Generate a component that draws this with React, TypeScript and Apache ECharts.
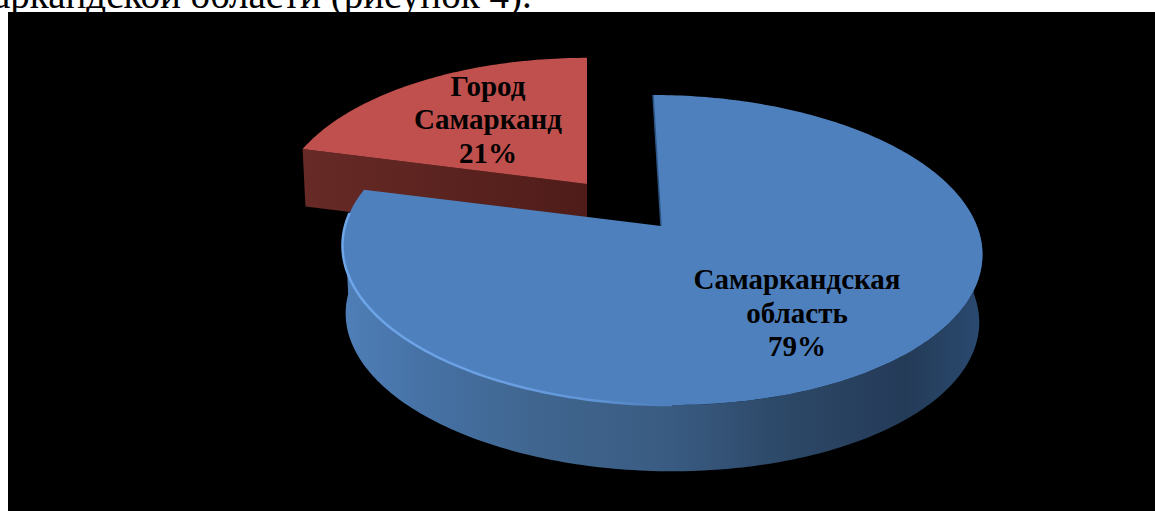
import React, { useEffect, useRef } from "react";
import * as echarts from "echarts";

const categories = ["Самаркандская\nобласть", "Город\nСамарканд"];
const shares = [79, 21];
const caption = "аркандской области (рисунок 4).";

const W = 1155;
const H = 511;
const K = 0.155;
const RX = 316;
const RY = 151.3;

type Look = {
  ax: number; ay: number; sx: number; sy: number; shear: number; depth: number;
  top: string; labelX: number; labelY: number;
};
const looks: Look[] = [
  { ax: 661, ay: 226, sx: 1, sy: 1, shear: 0.061, depth: 68, top: "#4e80bd", labelX: 797, labelY: 312.5 },
  { ax: 587, ay: 184, sx: 0.965, sy: 0.963, shear: 0, depth: 57, top: "#c0504d", labelX: 488, labelY: 119 },
];

const rad = (d: number) => (d * Math.PI) / 180;

function pt(l: Look, deg: number, bottom = false): number[] {
  const t = rad(deg);
  const w = 1 + K * Math.cos(t);
  const shrink = bottom ? 0.99 : 1;
  const dy = (-l.sy * RY * Math.cos(t) * shrink) / w;
  const dx = (l.sx * RX * Math.sin(t) * shrink) / w;
  return [l.ax + dx + l.shear * dy, l.ay + dy + (bottom ? l.depth : 0)];
}

function arc(l: Look, from: number, to: number, bottom = false): number[][] {
  const out: number[][] = [];
  const n = Math.max(2, Math.ceil(Math.abs(to - from)));
  for (let i = 0; i <= n; i++) out.push(pt(l, from + ((to - from) * i) / n, bottom));
  return out;
}

const hGrad = (x: number, x2: number, stops: [number, string][]) => ({
  type: "linear", x, y: 0, x2, y2: 0, global: true,
  colorStops: stops.map(([offset, color]) => ({ offset, color })),
});

function renderSlice(params: any, api: any) {
  const i = params.dataIndex;
  const total = shares.reduce((a, b) => a + b, 0);
  const before = shares.slice(0, i).reduce((a, b) => a + b, 0);
  const start = (before / total) * 360;
  const end = start + (api.value(0) / total) * 360;
  const l = looks[i];
  const apex = [l.ax, l.ay];
  const base = (shares.length - i) * 10;
  const children: any[] = [];

  if (i === 0) {
    const from = Math.max(start, 90);
    const to = Math.min(end, 270);
    children.push({
      type: "polygon", z2: base,
      shape: { points: [...arc(l, from, to), ...arc(l, to, from, true)] },
      style: {
        fill: hGrad(342, 983, [
          [0, "#4f7fb8"], [0.12, "#4672a6"], [0.3, "#40668f"], [0.5, "#3a5c83"],
          [0.7, "#2c4766"], [0.88, "#243b58"], [1, "#2a4a70"],
        ]),
      },
    });
  } else {
    const a = pt(l, start);
    const b = pt(l, start, true);
    const c = [l.ax, l.ay + l.depth];
    children.push({
      type: "polygon", z2: base,
      shape: { points: [a, b, c, apex] },
      style: { fill: hGrad(303, 587, [[0, "#672a26"], [1, "#4f1c19"]]) },
    });
  }

  children.push({
    type: "polygon", z2: base + 1,
    shape: { points: [apex, ...arc(l, start, end)] },
    style: { fill: l.top },
  });

  if (i === 0) {
    children.push({
      type: "polyline", z2: base + 2,
      shape: { points: arc(l, 180, 275) },
      style: {
        fill: "none", lineWidth: 2.5,
        stroke: hGrad(342, 660, [
          [0, "#6ea6ea"], [0.5, "#6a9fe2"], [0.8, "#5f94d6"], [1, "#4e80bd"],
        ]),
      },
    });
    children.push({
      type: "polyline", z2: base + 2,
      shape: { points: [pt(l, 0), apex] },
      style: { fill: "none", lineWidth: 1.5, stroke: "#2c5484" },
    });
  }

  children.push({
    type: "text", z2: base + 5,
    style: {
      text: `${categories[i]}\n${api.value(0)}%`,
      x: l.labelX, y: l.labelY,
      align: "center", verticalAlign: "middle",
      fontFamily: "Liberation Serif", fontWeight: "bold", fontSize: 29,
      lineHeight: 33.5, fill: "#000",
    },
  });

  return { type: "group", children };
}

export default function App() {
  const ref = useRef<HTMLDivElement>(null);
  useEffect(() => {
    const chart = echarts.init(ref.current!, null, { renderer: "svg" });
    chart.setOption({
      animation: false,
      backgroundColor: "#ffffff",
      graphic: [
        {
          type: "text", x: -7, y: 14,
          style: {
            text: caption, fontFamily: "Liberation Serif", fontSize: 39,
            fill: "#000", verticalAlign: "bottom", align: "left",
          },
        },
        { type: "rect", shape: { x: 8, y: 12, width: W - 8, height: H - 12 }, style: { fill: "#000" } },
      ],
      series: [
        {
          type: "custom",
          coordinateSystem: "none",
          renderItem: renderSlice,
          silent: true,
          data: shares.map((value, i) => ({ name: categories[i], value })),
        },
      ],
    });
    return () => chart.dispose();
  }, []);
  return <div ref={ref} style={{ position: "absolute", left: 0, top: 0, width: W, height: H }} />;
}
